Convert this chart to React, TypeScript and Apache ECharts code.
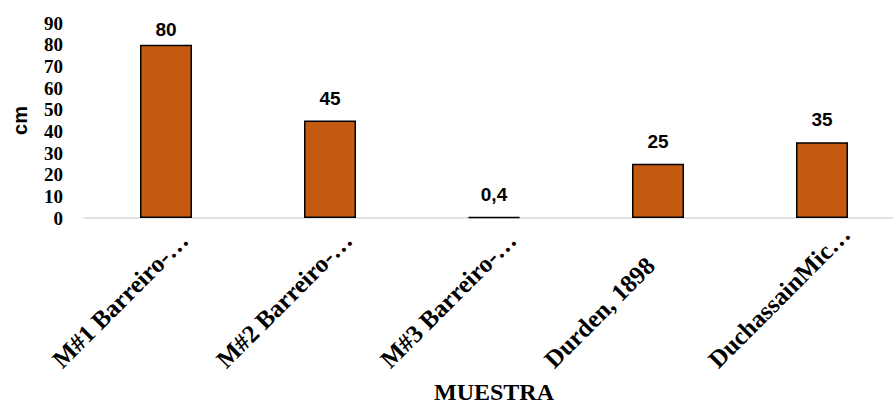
import React, { useEffect, useRef } from "react";
import * as echarts from "echarts";

// Sample names as shown on the category axis
const categories = [
  "M#1 Barreiro-…",
  "M#2 Barreiro-…",
  "M#3 Barreiro-…",
  "Durden, 1898",
  "DuchassainMic…",
];

// Measured thickness per sample (cm)
const values = [80, 45, 0.4, 25, 35];

// Value-axis range
const yMin = 0;
const yMax = 90;
const yStep = 10;

const BAR_COLOR = "#C55A11";
const SERIF = "'Liberation Serif', 'Times New Roman', serif";
const SANS = "'Liberation Sans', Arial, sans-serif";

const fmtComma = (v: number) => String(v).replace(".", ",");

export default function App() {
  const ref = useRef<HTMLDivElement>(null);

  useEffect(() => {
    document.body.style.margin = "0";
    const chart = echarts.init(ref.current!, null, { renderer: "svg" });

    chart.setOption({
      animation: false,
      backgroundColor: "#ffffff",
      // the plot area runs a little past the right edge of the visible frame
      grid: { left: 84, top: 23, right: 0, bottom: 183, containLabel: false },
      xAxis: {
        type: "category",
        data: categories,
        name: "MUESTRA",
        nameLocation: "middle",
        nameGap: 162,
        nameTextStyle: {
          fontFamily: SERIF,
          fontWeight: "bold",
          fontSize: 24,
          color: "#000",
        },
        axisLine: { lineStyle: { color: "#d9d9d9", width: 1.5 } },
        axisTick: { show: false },
        axisLabel: {
          interval: 0,
          rotate: 45,
          margin: 36,
          color: "#000",
          fontFamily: SERIF,
          fontWeight: "bold",
          fontSize: 25,
          formatter: (v: string) => "{c|" + v + "}",
          rich: {
            c: {
              width: 155,
              align: "left",
              fontFamily: SERIF,
              fontWeight: "bold",
              fontSize: 25,
              color: "#000",
            },
          },
        },
      },
      yAxis: {
        type: "value",
        min: yMin,
        max: yMax,
        interval: yStep,
        name: "cm",
        nameLocation: "middle",
        nameGap: 54,
        nameTextStyle: {
          fontFamily: SANS,
          fontWeight: "bold",
          fontSize: 20,
          color: "#000",
        },
        axisLine: { show: false },
        axisTick: { show: false },
        splitLine: { show: false },
        axisLabel: {
          margin: 21,
          color: "#000",
          fontFamily: SERIF,
          fontWeight: "bold",
          fontSize: 19,
          lineHeight: 18,
        },
      },
      series: [
        {
          type: "bar",
          barWidth: 52,
          data: values.map((v) =>
            v > yMax - 15 ? { value: v, label: { distance: 6 } } : v
          ),
          itemStyle: {
            color: BAR_COLOR,
            borderColor: "#000",
            borderWidth: 1.5,
          },
          label: {
            show: true,
            position: "top",
            distance: 13,
            color: "#000",
            fontFamily: SANS,
            fontWeight: "bold",
            fontSize: 19,
            formatter: (p: any) => fmtComma(p.value),
          },
        },
      ],
    });

    return () => chart.dispose();
  }, []);

  return (
    <div style={{ width: 893, height: 405, overflow: "hidden", position: "relative" }}>
      <div ref={ref} style={{ width: 904, height: 405 }} />
    </div>
  );
}
